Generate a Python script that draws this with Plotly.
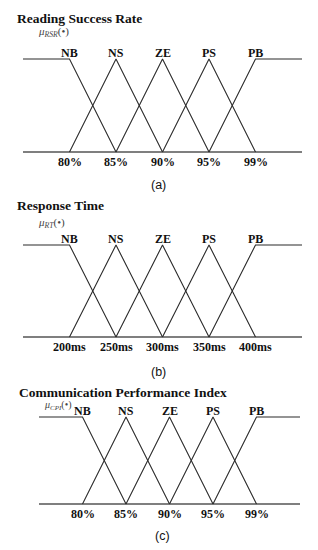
import plotly.graph_objects as go

# page body has an 8px default margin; lay out in reference pixels shifted by it
OFF = 8
W, H = 318 - OFF, 550 - OFF

categories = ["NB", "NS", "ZE", "PS", "PB"]
rsr_ticks = ["80%", "85%", "90%", "95%", "99%"]
rt_ticks = ["200ms", "250ms", "300ms", "350ms", "400ms"]
cpi_ticks = ["80%", "85%", "90%", "95%", "99%"]

# membership breakpoints per category (x in category index units, y membership)
mf_x = [[-1, 0, 1], [0, 1, 2], [1, 2, 3], [2, 3, 4], [3, 4, 5]]
mf_y = [[1, 1, 0], [0, 1, 0], [0, 1, 0], [0, 1, 0], [0, 1, 1]]
peaks = [0, 1, 2, 3, 4]
axis_x = [-1, 5]
axis_y = [0, 0]

titles = ["Reading Success Rate", "Response Time", "Communication Performance Index"]
mu_labels = ["<i>μ</i><sub><i>RSR</i></sub>(•)", "<i>μ</i><sub><i>RT</i></sub>(•)",
             "<i>μ</i><sub><i>CPI</i></sub>(•)"]
panel_tags = ["(a)", "(b)", "(c)"]
tick_sets = [rsr_ticks, rt_ticks, cpi_ticks]

# reference pixel layout: x(-1), x(5), y(1), y(0), title pos, mu pos, tag pos
panels = [
    dict(xl=23, xr=302, yt=59, yb=152, title=(15, 19), mu=(36, 32), mus=11, tag=(158, 185)),
    dict(xl=23, xr=302, yt=245, yb=337, title=(15, 205), mu=(36, 223), mus=11, tag=(158, 372)),
    dict(xl=39, xr=300, yt=417, yb=504, title=(17, 392), mu=(42, 405), mus=10, tag=(162, 536)),
]

def px(v):
    return (v - OFF) / W

def py(v):
    return 1 - (v - OFF) / H

XPAD, YPAD = 0.1, 0.06
serif = "Liberation Serif"
fig = go.Figure()
annotations = []
for i, p in enumerate(panels):
    n = "" if i == 0 else str(i + 1)
    xs = (p["xr"] - p["xl"]) / 6.0
    ys = (p["yb"] - p["yt"]) / 1.0
    x0 = px(p["xl"] - XPAD * xs)
    x1 = px(p["xr"] + XPAD * xs)
    y0 = py(p["yb"] + YPAD * ys)
    y1 = py(p["yt"] - YPAD * ys)
    xa, ya = "x" + n, "y" + n
    fig.update_layout(**{
        "xaxis" + n: dict(domain=[x0, x1], range=[-1 - XPAD, 5 + XPAD], visible=False,
                          anchor=ya, fixedrange=True),
        "yaxis" + n: dict(domain=[y0, y1], range=[-YPAD, 1 + YPAD], visible=False,
                          anchor=xa, fixedrange=True),
    })
    fig.add_trace(go.Scatter(x=axis_x, y=axis_y, mode="lines", xaxis=xa, yaxis=ya,
                             line=dict(color="#555", width=1.6), hoverinfo="skip"))
    for k in range(len(categories)):
        fig.add_trace(go.Scatter(x=mf_x[k], y=mf_y[k], mode="lines", xaxis=xa, yaxis=ya,
                                 line=dict(color="#2a2a2a", width=1.1), hoverinfo="skip"))
        annotations.append(dict(x=peaks[k], y=1, xref=xa, yref=ya, xanchor="center",
                                yanchor="middle", yshift=6, showarrow=False,
                                text="<b>" + categories[k] + "</b>",
                                font=dict(family=serif, size=12, color="#111")))
        annotations.append(dict(x=peaks[k], y=0, xref=xa, yref=ya, xanchor="center",
                                yanchor="middle", yshift=-10, showarrow=False,
                                text="<b>" + tick_sets[i][k] + "</b>",
                                font=dict(family=serif, size=12, color="#111")))
    tx, ty = p["title"]
    annotations.append(dict(x=px(tx), y=py(ty), xref="paper", yref="paper",
                            xanchor="left", yanchor="middle", showarrow=False,
                            text="<b>" + titles[i] + "</b>",
                            font=dict(family=serif, size=13.5, color="#111")))
    mx, my = p["mu"]
    annotations.append(dict(x=px(mx), y=py(my), xref="paper", yref="paper",
                            xanchor="left", yanchor="middle", showarrow=False,
                            text=mu_labels[i],
                            font=dict(family=serif, size=p["mus"], color="#444")))
    gx, gy = p["tag"]
    annotations.append(dict(x=px(gx), y=py(gy), xref="paper", yref="paper",
                            xanchor="center", yanchor="middle", showarrow=False,
                            text=panel_tags[i],
                            font=dict(family="Liberation Sans", size=12.5, color="#111")))

fig.update_layout(width=W, height=H, margin=dict(l=0, r=0, t=0, b=0),
                  paper_bgcolor="white", plot_bgcolor="white", showlegend=False,
                  annotations=annotations)
fig.write_html("out.html", config={"displayModeBar": False})
